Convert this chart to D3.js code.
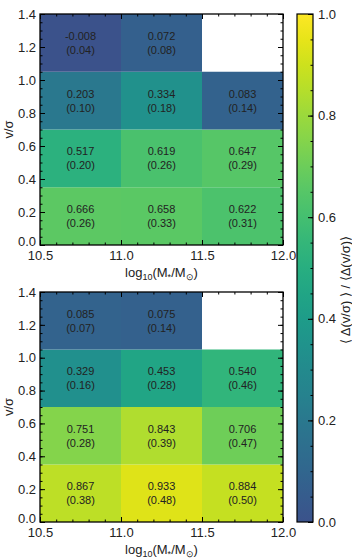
<!DOCTYPE html>
<html>
<head lang="en">
    <meta charset="UTF-8">
    <title></title>
    <script src="https://cdn.jsdelivr.net/npm/d3@7" charset="UTF-8"></script>
    <style>
        body{margin:0;background:#fff;}
        text{font-family:"Liberation Sans",Arial,Helvetica,sans-serif;}
    </style>
</head>
<body>
<script>
    // bin edges
    var massEdges=[10.5,11.0,11.5,12.0];
    var vsEdges=[0,0.35,0.7,1.05,1.4];
    // rows go from low v/sigma to high, columns by mass bin; null = empty cell
    var topMean=[[0.666,0.658,0.622],[0.517,0.619,0.647],[0.203,0.334,0.083],[-0.008,0.072,null]];
    var topErr=[[0.26,0.33,0.31],[0.20,0.26,0.29],[0.10,0.18,0.14],[0.04,0.08,null]];
    var botMean=[[0.867,0.933,0.884],[0.751,0.843,0.706],[0.329,0.453,0.540],[0.085,0.075,null]];
    var botErr=[[0.38,0.48,0.50],[0.28,0.39,0.47],[0.16,0.28,0.46],[0.07,0.14,null]];
    var xTicks=[10.5,11.0,11.5,12.0];
    var yTicks=[0,0.2,0.4,0.6,0.8,1.0,1.2,1.4];
    var cbTicks=[0,0.2,0.4,0.6,0.8,1.0];

    var W=352,H=560;
    var left=40,right=283;
    var panels=[
        {top:14,bottom:245,mean:topMean,err:topErr},
        {top:292,bottom:522,mean:botMean,err:botErr}
    ];
    // truncated viridis (starts at blue)
    function col(v){
        var t=Math.max(0,Math.min(1,v));
        return d3.interpolateViridis(0.25+0.75*t);
    }
    function minorRange(a,b,step){
        var n=Math.round((b-a)/step),out=[];
        for(var i=0;i<=n;i++){out.push(+(a+i*step).toFixed(4));}
        return out;
    }

    var svg=d3.select("body").append("svg")
            .attr("width",W).attr("height",H);

    var x=d3.scaleLinear().domain([10.5,12.0]).range([left,right]);

    panels.forEach(function(p){
        var y=d3.scaleLinear().domain([0,1.4]).range([p.bottom,p.top]);
        var g=svg.append("g");
        var cells=[];
        p.mean.forEach(function(row,r){
            row.forEach(function(v,c){
                if(v===null)return;
                cells.push({r:r,c:c,v:v,e:p.err[r][c]});
            });
        });
        g.selectAll("rect.cell").data(cells).enter().append("rect")
                .attr("class","cell")
                .attr("x",function(d){return x(massEdges[d.c]);})
                .attr("y",function(d){return y(vsEdges[d.r+1]);})
                .attr("width",function(d){return x(massEdges[d.c+1])-x(massEdges[d.c]);})
                .attr("height",function(d){return y(vsEdges[d.r])-y(vsEdges[d.r+1]);})
                .style("fill",function(d){return col(d.v);});
        var labels=g.selectAll("text.val").data(cells).enter().append("text")
                .attr("class","val")
                .attr("text-anchor","middle")
                .attr("font-size","11px")
                .style("fill","#222");
        labels.append("tspan")
                .attr("x",function(d){return (x(massEdges[d.c])+x(massEdges[d.c+1]))/2;})
                .attr("y",function(d){return (y(vsEdges[d.r])+y(vsEdges[d.r+1]))/2-3;})
                .text(function(d){return d.v.toFixed(3);});
        labels.append("tspan")
                .attr("x",function(d){return (x(massEdges[d.c])+x(massEdges[d.c+1]))/2;})
                .attr("y",function(d){return (y(vsEdges[d.r])+y(vsEdges[d.r+1]))/2+11;})
                .text(function(d){return "("+d.e.toFixed(2)+")";});

        // axes, ticks inward on all four sides
        var xMinor=minorRange(10.5,12.0,0.1),yMinor=minorRange(0,1.4,0.05);
        function ax(gen,tr,vals,len,fmt,pad){
            var a=gen.tickValues(vals).tickSizeInner(-len).tickSizeOuter(0).tickPadding(pad||4);
            a.tickFormat(fmt?fmt:function(){return "";});
            var s=svg.append("g").attr("transform",tr).call(a);
            s.select(".domain").remove();
            s.selectAll("line").attr("stroke","#000");
            s.selectAll("text").attr("font-size","13px").style("font-family",'"Liberation Sans",Arial,sans-serif').attr("fill","#222");
            return s;
        }
        var f1=d3.format(".1f");
        ax(d3.axisBottom(x),"translate(0,"+p.bottom+")",xMinor,2.5);
        ax(d3.axisBottom(x),"translate(0,"+p.bottom+")",xTicks,5,f1,6);
        ax(d3.axisTop(x),"translate(0,"+p.top+")",xMinor,2.5);
        ax(d3.axisTop(x),"translate(0,"+p.top+")",xTicks,5);
        ax(d3.axisLeft(y),"translate("+left+",0)",yMinor,2.5);
        var yl=ax(d3.axisLeft(y),"translate("+left+",0)",yTicks,5,f1,4);
        // lift the 0.0 label a little so it clears the 10.5 label below it
        yl.selectAll(".tick").filter(function(d){return d===0;}).select("text").attr("dy","0.05em");
        ax(d3.axisRight(y),"translate("+right+",0)",yMinor,2.5);
        ax(d3.axisRight(y),"translate("+right+",0)",yTicks,5);

        svg.append("rect")
                .attr("x",left).attr("y",p.top)
                .attr("width",right-left).attr("height",p.bottom-p.top)
                .style("fill","none").style("stroke","#000").style("stroke-width",1.3);

        // axis titles
        var xt=svg.append("text")
                .attr("x",(left+right)/2).attr("y",p.bottom+32)
                .attr("text-anchor","middle").attr("font-size","13px").style("fill","#222");
        xt.append("tspan").text("log");
        xt.append("tspan").attr("font-size","9px").attr("dy",3).text("10");
        xt.append("tspan").attr("dy",-3).text("(M");
        xt.append("tspan").attr("font-size","9px").attr("dy",3).text("*");
        xt.append("tspan").attr("dy",-3).text("/M");
        xt.append("tspan").attr("font-size","9px").attr("dy",3).text("\u2299");
        xt.append("tspan").attr("dy",-3).text(")");

        svg.append("text")
                .attr("transform","translate(13,"+((p.top+p.bottom)/2)+") rotate(-90)")
                .attr("text-anchor","middle").attr("font-size","13px").style("fill","#222")
                .text("v/\u03c3");
    });

    // colorbar
    var cbX=297,cbW=16,cbTop=14,cbBot=522;
    var cb=d3.scaleLinear().domain([0,1]).range([cbBot,cbTop]);
    var grad=svg.append("defs").append("linearGradient")
            .attr("id","cbgrad").attr("x1","0").attr("y1","1").attr("x2","0").attr("y2","0");
    d3.range(0,1.0001,0.05).forEach(function(t){
        grad.append("stop").attr("offset",t).attr("stop-color",col(t));
    });
    svg.append("rect")
            .attr("x",cbX).attr("y",cbTop).attr("width",cbW).attr("height",cbBot-cbTop)
            .style("fill","url(#cbgrad)");
    var cbMinor=minorRange(0,1,0.05);
    var m=svg.append("g").attr("transform","translate("+(cbX+cbW)+",0)")
            .call(d3.axisRight(cb).tickValues(cbMinor).tickSizeInner(-2.5).tickSizeOuter(0).tickFormat(function(){return "";}));
    m.select(".domain").remove();
    var M=svg.append("g").attr("transform","translate("+(cbX+cbW)+",0)")
            .call(d3.axisRight(cb).tickValues(cbTicks).tickSizeInner(-5).tickSizeOuter(0).tickPadding(5).tickFormat(d3.format(".1f")));
    M.select(".domain").remove();
    M.selectAll("text").attr("font-size","13px").style("font-family",'"Liberation Sans",Arial,sans-serif').attr("fill","#222");
    svg.append("rect")
            .attr("x",cbX).attr("y",cbTop).attr("width",cbW).attr("height",cbBot-cbTop)
            .style("fill","none").style("stroke","#000").style("stroke-width",1.2);
    svg.append("text")
            .attr("transform","translate(350,290) rotate(-90)")
            .attr("text-anchor","middle").attr("font-size","13px").style("fill","#222")
            .text("\u27e8 \u0394(v/\u03c3) \u27e9 / \u27e8\u0394(v/\u03c3)\u27e9");
</script>
</body>
</html>
